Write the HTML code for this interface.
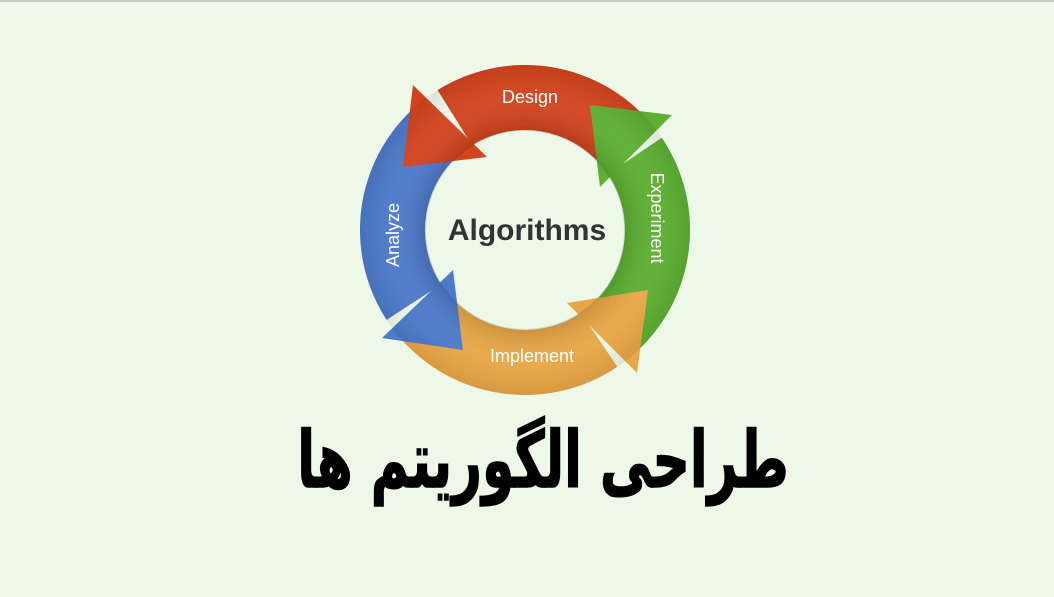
<!DOCTYPE html>
<html><head><meta charset="utf-8"><style>
html,body{margin:0;padding:0}
body{width:1054px;height:597px;overflow:hidden;background:#eef8e9;position:relative;border-top:2px solid #c8c8c8;box-sizing:border-box}
.t{position:absolute;left:11px;width:1054px;text-align:center;top:414px;font-family:"DejaVu Sans",sans-serif;font-weight:bold;font-size:78px;color:#000;direction:rtl;transform:scaleX(0.665);transform-origin:542px 0;-webkit-text-stroke:1.5px #000}
</style></head><body>
<svg width="1054" height="597" style="position:absolute;left:0;top:-2px">
<defs>
<radialGradient id="sh" cx="525" cy="230" r="165" gradientUnits="userSpaceOnUse">
<stop offset="0.6" stop-color="#000" stop-opacity="0.25"/>
<stop offset="0.8" stop-color="#fff" stop-opacity="0.08"/>
<stop offset="1" stop-color="#000" stop-opacity="0.15"/>
</radialGradient>
</defs>
<g>
<path d="M651.4,123.9 A165,165 0 0 0 437.6,90.1 L472,145.2 A100,100 0 0 1 601.6,165.7 Z" fill="#d2431e"/>
<path d="M631.1,356.4 A165,165 0 0 0 661.8,137.7 L607.9,174.1 A100,100 0 0 1 589.3,306.6 Z" fill="#5caf32"/>
<path d="M398.6,336.1 A165,165 0 0 0 617.3,366.8 L580.9,312.9 A100,100 0 0 1 448.4,294.3 Z" fill="#e9a645"/>
<path d="M423.4,100 A165,165 0 0 0 386.6,319.9 L441.1,284.5 A100,100 0 0 1 463.4,151.2 Z" fill="#4d79c9"/>
<polygon points="413,85 487,157 403,167" fill="#d2431e"/>
<polygon points="590,105 672,115 600,187" fill="#5caf32"/>
<polygon points="567,303 648,290 637,373" fill="#e9a645"/>
<polygon points="453,270 382,338 463,350" fill="#4d79c9"/>
<circle cx="525" cy="230" r="132" fill="none" stroke="url(#sh)" stroke-width="66" opacity="0.5"/>
</g>
<g font-family="Liberation Sans, sans-serif" fill="#fff" font-size="18" text-anchor="middle">
<text x="530" y="103">Design</text>
<text x="532" y="362">Implement</text>
<text transform="translate(651,218) rotate(90)">Experiment</text>
<text transform="translate(399,235) rotate(-90)">Analyze</text>
</g>
<text x="527" y="240" font-family="Liberation Sans, sans-serif" font-weight="bold" font-size="30" fill="#333" text-anchor="middle">Algorithms</text>
</svg>
<div class="t">طراحی الگوریتم ها</div>
</body></html>
